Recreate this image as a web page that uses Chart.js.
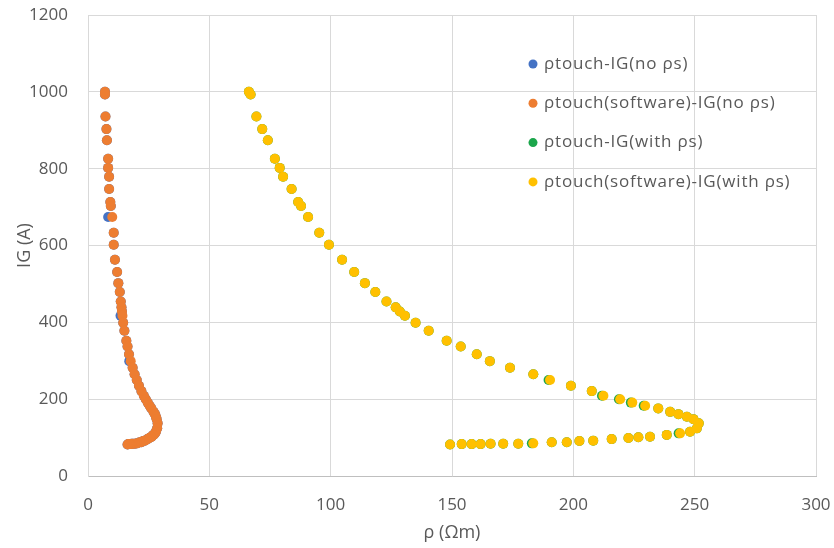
<!DOCTYPE html>
<html>
<head>
<meta charset="utf-8">
<title>ρtouch - IG</title>
<script src="https://cdn.jsdelivr.net/npm/chart.js@4/dist/chart.umd.min.js"></script>
<style>
  html, body { margin: 0; padding: 0; background: #fff; }
  #wrap { width: 834px; height: 548px; }
</style>
</head>
<body>
<div id="wrap"><canvas id="igChart" width="834" height="548"></canvas></div>
<script>
// IG (A) values, same steps for all four series
const igValues = [1000, 993, 936, 903, 874, 826, 802, 779, 747, 713,
  703, 674, 633, 602, 563, 531, 502, 479, 454, 439,
  428, 417, 399, 378, 352, 337, 317, 299, 282, 265,
  250, 235, 221, 209, 200, 191, 183, 176, 167, 161,
  154, 148, 137, 124, 115, 111, 107, 102, 101, 99,
  96, 92, 91, 88, 88, 85, 84, 84, 84, 83,
  83, 83, 82];

// ρ (Ωm) without ρs
const rhoNoPs = [7.0, 7.0, 7.2, 7.6, 7.8, 8.3, 8.3, 8.7, 8.7, 9.2,
  9.4, 8.3, 10.6, 10.6, 11.1, 12.0, 12.5, 13.1, 13.5, 13.8,
  14.0, 13.4, 14.5, 15.0, 15.8, 16.3, 16.9, 17.0, 18.4, 19.2,
  20.1, 21.0, 22.0, 23.0, 23.8, 24.6, 25.4, 26.1, 27.0, 27.6,
  28.0, 28.3, 28.7, 28.5, 28.0, 27.6, 27.0, 26.2, 25.8, 25.3,
  24.5, 23.4, 22.7, 22.0, 21.3, 20.2, 19.4, 18.6, 18.0, 17.5,
  17.1, 16.7, 16.3];
const rhoSoftNoPs = [7.0, 7.0, 7.2, 7.6, 7.8, 8.3, 8.3, 8.7, 8.7, 9.2,
  9.4, 10.0, 10.6, 10.6, 11.1, 12.0, 12.5, 13.1, 13.5, 13.8,
  14.0, 14.2, 14.5, 15.0, 15.8, 16.3, 16.9, 17.6, 18.4, 19.2,
  20.1, 21.0, 22.0, 23.0, 23.8, 24.6, 25.4, 26.1, 27.0, 27.6,
  28.0, 28.3, 28.7, 28.5, 28.0, 27.6, 27.0, 26.2, 25.8, 25.3,
  24.5, 23.4, 22.7, 22.0, 21.3, 20.2, 19.4, 18.6, 18.0, 17.5,
  17.1, 16.7, 16.3];

// ρ (Ωm) with ρs
const rhoWithPs = [66.3, 67.0, 69.4, 71.8, 74.1, 77.0, 79.0, 80.4, 83.9, 86.6,
  87.8, 90.7, 95.3, 99.3, 104.7, 109.7, 114.1, 118.4, 123.0, 126.8,
  128.5, 130.6, 135.0, 140.4, 147.8, 153.6, 160.2, 165.6, 173.9, 183.5,
  189.8, 199.0, 207.6, 211.8, 218.8, 223.7, 229.0, 235.0, 239.9, 243.3,
  246.8, 249.5, 251.7, 250.9, 248.1, 243.4, 238.5, 231.6, 226.8, 222.7,
  215.8, 208.2, 202.5, 197.3, 191.1, 182.9, 177.3, 171.1, 165.9, 161.8,
  158.1, 154.0, 149.2];
const rhoSoftWithPs = [66.3, 67.0, 69.4, 71.8, 74.1, 77.0, 79.0, 80.4, 83.9, 86.6,
  87.8, 90.7, 95.3, 99.3, 104.7, 109.7, 114.1, 118.4, 123.0, 126.8,
  128.5, 130.6, 135.0, 140.4, 147.8, 153.6, 160.2, 165.6, 173.9, 183.5,
  190.4, 199.0, 207.6, 212.4, 219.3, 224.3, 229.6, 235.0, 239.9, 243.3,
  246.8, 249.5, 251.7, 250.9, 248.1, 244.0, 238.5, 231.6, 226.8, 222.7,
  215.8, 208.2, 202.5, 197.3, 191.1, 183.5, 177.3, 171.1, 165.9, 161.8,
  158.1, 154.0, 149.2];

const seriesNames = ['ρtouch-IG(no ρs)', 'ρtouch(software)-IG(no ρs)', 'ρtouch-IG(with ρs)', 'ρtouch(software)-IG(with ρs)'];
const seriesRho = [rhoNoPs, rhoSoftNoPs, rhoWithPs, rhoSoftWithPs];
const seriesColors = ['#4472C4', '#ED7D31', '#1BA64B', '#FFC000'];

const xTicks = [0, 50, 100, 150, 200, 250, 300];
const yTicks = [0, 200, 400, 600, 800, 1000, 1200];

function toPoints(rho) {
  return rho.map((r, i) => ({ x: r, y: igValues[i] }));
}

// legend drawn inside the plot, on the right like the excel one
const insideLegend = {
  id: 'insideLegend',
  afterDraw(chart) {
    const c = chart.ctx;
    c.save();
    c.font = '17px "Open Sans"';
    c.letterSpacing = '0.8px';
    c.textBaseline = 'middle';
    c.textAlign = 'left';
    seriesNames.forEach((name, i) => {
      const y = 64 + i * 39.3;
      c.beginPath();
      c.arc(533, y, 4.5, 0, Math.PI * 2);
      c.fillStyle = seriesColors[i];
      c.fill();
      c.fillStyle = '#595959';
      c.fillText(name, 544, y);
    });
    c.restore();
  }
};

const ctx = document.getElementById('igChart').getContext('2d');
const igChart = new Chart(ctx, {
  type: 'scatter',
  data: {
    datasets: seriesNames.map((name, i) => ({
      label: name,
      data: toPoints(seriesRho[i]),
      backgroundColor: seriesColors[i],
      borderColor: seriesColors[i],
      borderWidth: 0,
      pointRadius: 5,
      pointHoverRadius: 5,
      order: 4 - i   // later series on top
    }))
  },
  options: {
    responsive: false,
    animation: false,
    layout: { padding: { top: 15, right: 18, left: 0, bottom: 0 } },
    plugins: {
      legend: { display: false },
      tooltip: { enabled: false }
    },
    scales: {
      x: {
        type: 'linear',
        min: 0, max: 300,
        afterBuildTicks: s => { s.ticks = xTicks.map(v => ({ value: v })); },
        afterFit: s => { s.height = 72; s.paddingLeft = 0; s.paddingRight = 0; },
        grid: { color: '#d9d9d9', drawTicks: false, tickLength: 0 },
        border: { color: '#bfbfbf' },
        ticks: { padding: 19, color: '#595959', font: { family: 'Open Sans', size: 17 } },
        title: { display: true, text: 'ρ (Ωm)', color: '#595959', padding: { top: 9 }, font: { family: 'Open Sans', size: 18 } }
      },
      y: {
        type: 'linear',
        min: 0, max: 1200,
        afterBuildTicks: s => { s.ticks = yTicks.map(v => ({ value: v })); },
        afterFit: s => { s.width = 88; s.paddingTop = 0; s.paddingBottom = 0; },
        grid: { color: '#d9d9d9', drawTicks: false, tickLength: 0 },
        border: { color: '#d9d9d9' },
        ticks: { padding: 20, color: '#595959', font: { family: 'Open Sans', size: 17 }, callback: v => String(v) },
        title: { display: true, text: 'IG (A)', color: '#595959', padding: { top: 14 }, font: { family: 'Open Sans', size: 18 } }
      }
    }
  },
  plugins: [insideLegend]
});
</script>
</body>
</html>
